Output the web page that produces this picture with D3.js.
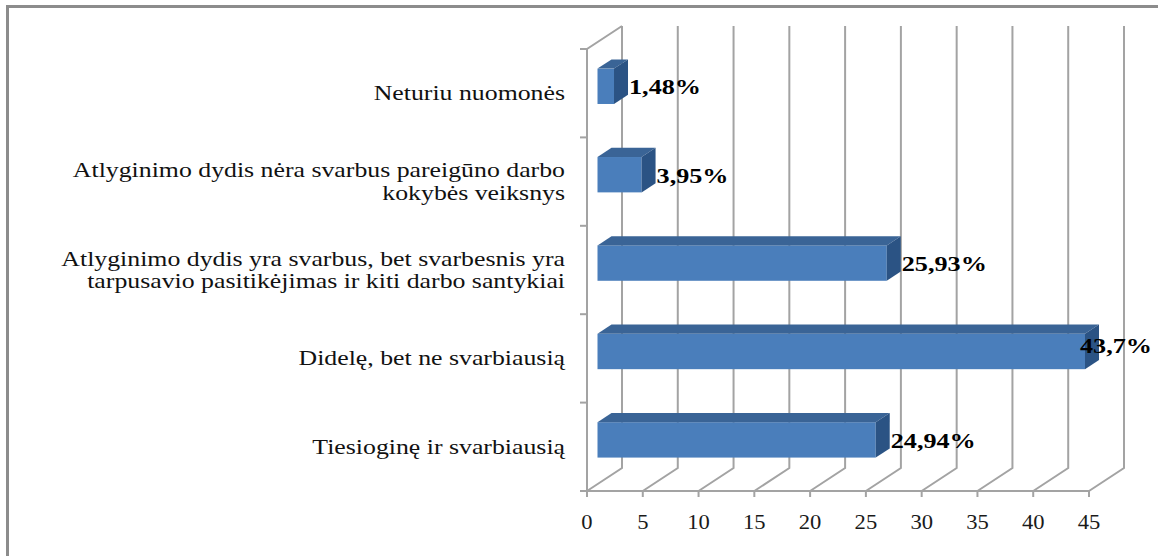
<!DOCTYPE html>
<html>
<head>
<meta charset="utf-8">
<script src="https://cdn.jsdelivr.net/npm/d3@7"></script>
<style>
  body { margin: 0; background: #fff; }
  svg { display: block; }
</style>
</head>
<body>
<svg id="chart" width="1158" height="556"></svg>
<script>
// data, top to bottom as in the picture
const categories = [
  "Neturiu nuomonės",
  "Atlyginimo dydis nėra svarbus pareigūno darbo|kokybės veiksnys",
  "Atlyginimo dydis yra svarbus, bet svarbesnis yra|tarpusavio pasitikėjimas ir kiti darbo santykiai",
  "Didelę, bet ne svarbiausią",
  "Tiesioginę ir svarbiausią"
];
const values = [1.48, 3.95, 25.93, 43.7, 24.94];
const valueLabels = ["1,48%", "3,95%", "25,93%", "43,7%", "24,94%"];
const xTicks = [0, 5, 10, 15, 20, 25, 30, 35, 40, 45];

const svg = d3.select("#chart");
const W = 1158;
const DX = 35, DY = -23; // depth of the 3d box
const serif = "'Liberation Serif', 'Times New Roman', serif";

const x = d3.scaleLinear().domain([0, 45]).range([587, 1089]);
const y = d3.scaleBand().domain(categories).range([49, 491]);
const bw = y.bandwidth();

// outer frame (right and bottom edges fall outside the picture)
svg.append("rect")
  .attr("x", 7.5).attr("y", 6.5)
  .attr("width", 1300).attr("height", 700)
  .attr("fill", "none")
  .attr("stroke", "#8c8c8c")
  .attr("stroke-width", 3);

const grid = svg.append("g")
  .attr("stroke", "#a3a3a3")
  .attr("stroke-width", 2)
  .attr("fill", "none");

// back wall gridlines + floor lines
xTicks.forEach(t => {
  grid.append("polyline")
    .attr("points", [
      [x(t) + DX, y.range()[0] + DY],
      [x(t) + DX, y.range()[1] + DY],
      [x(t), y.range()[1]]
    ].join(" "));
});

// left side wall
grid.append("polyline")
  .attr("points", [
    [x(0) + DX, y.range()[0] + DY],
    [x(0), y.range()[0]],
    [x(0), y.range()[1]]
  ].join(" "));

// category ticks on the left
categories.concat([null]).forEach((c, i) => {
  const yy = i < categories.length ? y(c) : y.range()[1];
  grid.append("line")
    .attr("x1", x(0) - 7).attr("x2", x(0))
    .attr("y1", yy).attr("y2", yy);
});

// front axis line and ticks
grid.append("line")
  .attr("x1", x(0) - 7).attr("x2", x(45))
  .attr("y1", y.range()[1]).attr("y2", y.range()[1]);
xTicks.forEach(t => {
  grid.append("line")
    .attr("x1", x(t)).attr("x2", x(t))
    .attr("y1", y.range()[1]).attr("y2", y.range()[1] + 6);
});

// text in the original is drawn a bit wide
function stretchText(g, px, py, str, sx) {
  return g.append("text")
    .attr("transform", `translate(${px},${py}) scale(${sx},1)`)
    .text(str);
}

// tick labels
const tickG = svg.append("g")
  .attr("font-family", serif)
  .attr("font-size", 20)
  .attr("fill", "#1a1a1a")
  .attr("text-anchor", "middle");
xTicks.forEach(t => stretchText(tickG, x(t), 529, t, 1.13));

// category labels
const catG = svg.append("g")
  .attr("font-family", serif)
  .attr("font-size", 20)
  .attr("fill", "#111")
  .attr("text-anchor", "end");
categories.forEach(c => {
  const lines = c.split("|");
  const lh = 22.5;
  const cy = y(c) + bw / 2 + 7 - (lines.length - 1) * lh / 2;
  lines.forEach((ln, j) => stretchText(catG, 565, cy + j * lh, ln, 1.29));
});

// 3d bars
const f0 = 0.3, f1 = 0.7;
const barG = svg.append("g");
categories.forEach((c, i) => {
  const x0 = x(0) + DX * f0;
  const x1 = x(values[i]) + DX * f0;
  const yT = y(c) + bw * 0.3 + DY * f0;
  const yB = yT + bw * 0.4;
  const dd = DX * (f1 - f0), dy = DY * (f1 - f0);

  barG.append("rect")
    .attr("x", x0).attr("y", yT)
    .attr("width", x1 - x0).attr("height", yB - yT)
    .attr("fill", "#4a7ebb");
  barG.append("polygon")
    .attr("points", [[x0, yT], [x1, yT], [x1 + dd, yT + dy], [x0 + dd, yT + dy]].join(" "))
    .attr("fill", "#3a6496");
  barG.append("polygon")
    .attr("points", [[x1, yT], [x1 + dd, yT + dy], [x1 + dd, yB + dy], [x1, yB]].join(" "))
    .attr("fill", "#2b5384");
});

// value labels
const valG = svg.append("g")
  .attr("font-family", serif)
  .attr("font-size", 22)
  .attr("font-weight", "bold")
  .attr("fill", "#000");
const VS = 1.19;
categories.forEach((c, i) => {
  let lx = x(values[i]) + DX * f1 + 1;
  let ly = y(c) + bw / 2 + DY * f0 + 8;
  const t = stretchText(valG, lx, ly, valueLabels[i], VS);
  const w = t.node().getComputedTextLength() * VS;
  if (lx + w > W - 6) {
    lx = W - 6 - w;
    ly += DY * f0;
    t.attr("transform", `translate(${lx},${ly}) scale(${VS},1)`);
  }
});
</script>
</body>
</html>
